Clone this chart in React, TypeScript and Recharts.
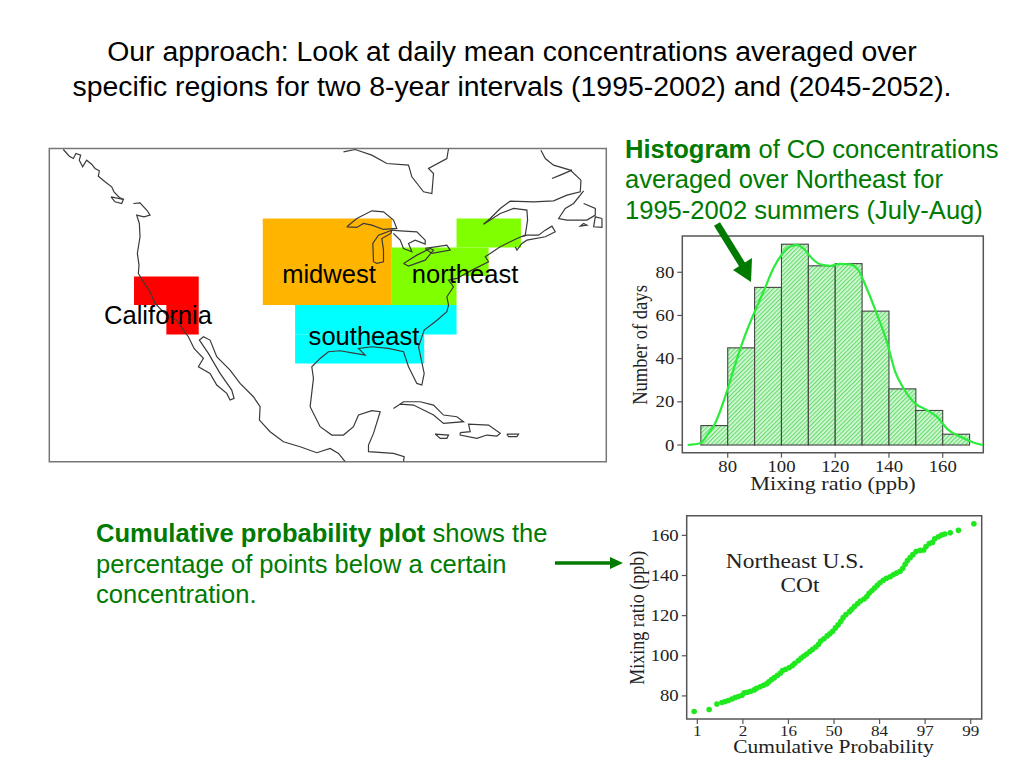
import React from "react";
import {
  ComposedChart, ScatterChart, Bar, Line, Scatter, XAxis, YAxis, ReferenceArea,
} from "recharts";

// ---------- Histogram data ----------
const binCenters = [75, 85, 95, 105, 115, 125, 135, 145, 155, 165];
const binCounts = [9, 45, 73, 93, 83, 84, 62, 26, 16, 5];
const curveX = [65.1, 69.7, 72.8, 75.3, 77.1, 80, 82.7, 85.8, 89.5, 93.3, 97, 100, 103.2, 105.7, 108.2, 111.3, 114.4, 118.1, 121.8, 125.5, 128.6, 131.7, 135.4, 139.2, 142.3, 145.4, 149.7, 154, 157.8, 162.1, 166.4, 171.4, 175];
const curveY = [0, 0.8, 5.4, 10, 15.4, 26, 37, 48.6, 60.2, 71, 81.9, 88, 91.9, 92.7, 91, 86.5, 83.7, 83, 83.9, 83.7, 81, 72.6, 61, 47.9, 34, 26.3, 19.3, 16.2, 13.1, 7, 3.9, 1.2, 0];
const histXTicks = [80, 100, 120, 140, 160];
const histYTicks = [0, 20, 40, 60, 80];

// ---------- Cumulative probability data ----------
const probit = [-3.07, -2.74, -2.57, -2.46, -2.39, -2.32, -2.24, -2.17, -2.10, -2.02, -1.97, -1.90, -1.83, -1.75, -1.70, -1.62, -1.55, -1.48, -1.43, -1.37, -1.31, -1.24, -1.18, -1.13, -1.06, -0.98, -0.91, -0.86, -0.78, -0.72, -0.66, -0.60, -0.53, -0.47, -0.40, -0.34, -0.29, -0.22, -0.15, -0.09, -0.03, 0.03, 0.09, 0.15, 0.20, 0.26, 0.34, 0.39, 0.45, 0.52, 0.58, 0.66, 0.72, 0.77, 0.83, 0.89, 0.95, 1.01, 1.08, 1.15, 1.23, 1.30, 1.37, 1.45, 1.51, 1.56, 1.61, 1.67, 1.73, 1.80, 1.89, 1.97, 2.02, 2.09, 2.16, 2.21, 2.29, 2.36, 2.43, 2.55, 2.73, 3.07];
const mixing = [72.2, 73.2, 76.0, 76.7, 77.2, 77.7, 78.5, 79.2, 79.7, 80.3, 81.5, 81.8, 82.3, 83.0, 83.8, 84.6, 85.3, 86.0, 87.0, 88.1, 89.1, 90.3, 91.3, 92.6, 93.3, 94.1, 95.1, 96.3, 97.6, 98.9, 99.9, 100.9, 102.1, 103.2, 104.4, 105.7, 107.4, 108.5, 109.9, 111.0, 112.2, 113.9, 115.4, 117.2, 119.0, 120.5, 122.0, 123.2, 124.6, 126.0, 127.3, 128.3, 129.5, 131.1, 132.4, 133.8, 135.1, 136.4, 137.6, 138.6, 139.4, 140.4, 141.2, 142.1, 143.6, 145.6, 147.4, 148.9, 150.4, 151.9, 152.5, 152.7, 154.4, 155.9, 156.5, 158.3, 159.3, 160.2, 160.7, 161.3, 162.5, 165.8];
const probTicks = [-3, -2, -1, 0, 1, 2, 3];
const probLabels = ["1", "2", "16", "50", "84", "97", "99"];
const mixTicks = [80, 100, 120, 140, 160];

// ---------- Map data (map grid units, east / south) ----------
const regions = [
  { name: "California", color: "#FF0000", cells: [[282, 476, 409, 495], [379, 476, 495, 583]] },
  { name: "midwest", color: "#FFB400", cells: [[668, 1055, 235, 495]] },
  { name: "northeast", color: "#80FF00", cells: [[1249, 1442, 235, 322], [1055, 1345, 322, 408], [1055, 1249, 408, 495]] },
  { name: "southeast", color: "#00FFFF", cells: [[765, 1249, 495, 583], [765, 1152, 583, 670]] },
];
const alaskaCoast = [[70,28],[88,48],[100,55],[108,40],[122,45],[118,60],[128,80],[140,60],[155,72],[165,85],[178,92],[175,108],[195,125],[215,140],[222,155],[238,172],[252,178]];
const vancouver = [[213,170],[250,178],[245,190],[225,185],[213,170]];
const pacificCoast = [[280,190],[300,188],[322,212],[330,225],[312,230],[290,225],[298,250],[300,290],[292,340],[297,375],[295,400],[310,425],[330,455],[345,490],[375,520],[410,540],[430,570],[445,590],[462,625],[490,655],[475,680],[510,700],[530,735],[560,760],[570,780],[582,775],[575,750],[540,700],[505,640],[478,600],[490,590],[510,600],[530,650],[570,690],[600,730],[640,770],[660,800],[658,840],[690,875],[730,905],[780,920],[830,938],[870,925],[895,940],[915,965]];
const gulfAtlantic = [[1090,965],[1092,950],[1060,940],[985,935],[985,915],[1000,880],[1020,815],[995,812],[955,825],[940,860],[910,885],[875,885],[840,860],[810,800],[820,715],[815,680],[840,655],[865,635],[900,632],[945,640],[975,645],[955,625],[995,620],[1045,625],[1090,635],[1105,680],[1130,730],[1145,735],[1152,700],[1135,620],[1152,570],[1185,545],[1220,515],[1225,495],[1220,470],[1240,440],[1225,420],[1250,415],[1295,390],[1345,365],[1335,350],[1380,320],[1430,295],[1455,285],[1462,240],[1460,210],[1420,205],[1380,220],[1330,252]];
const labrador = [[1330,252],[1350,235],[1380,205],[1410,183],[1480,185],[1540,182],[1580,165],[1620,155],[1622,120],[1590,90],[1540,75],[1515,55],[1502,30]];
const novaScotia = [[1425,320],[1430,330],[1445,310],[1460,300],[1515,290],[1545,275],[1535,258],[1515,270],[1495,285],[1460,285],[1445,290]];
const anticosti = [[1535,115],[1595,90],[1560,105],[1535,115]];
const newfoundland = [[1630,152],[1600,190],[1575,205],[1555,235],[1580,240],[1640,240],[1665,225],[1665,205],[1630,190]];
const capeRace = [[1685,235],[1685,262],[1660,260],[1665,230],[1685,235]];
const capeBreton = [[1630,250],[1640,255],[1620,258],[1630,250]];
const hudsonBay = [[910,35],[945,28],[995,45],[1040,70],[1105,75],[1115,110],[1150,155],[1175,160],[1180,100],[1165,85],[1220,55],[1225,25]];
const superior = [[920,260],[950,235],[995,212],[1030,215],[1060,240],[1070,265],[1030,268],[995,255],[970,250],[950,262],[920,260]];
const michigan = [[1000,365],[998,310],[1015,285],[1055,270],[1052,280],[1025,295],[1030,330],[1030,365],[1010,370],[1000,365]];
const huron = [[1055,270],[1080,272],[1130,275],[1155,300],[1155,312],[1125,300],[1105,310],[1115,335],[1090,325],[1080,300],[1060,280]];
const erie = [[1090,370],[1130,345],[1170,325],[1180,330],[1155,360],[1105,378],[1090,370]];
const ontario = [[1155,325],[1220,315],[1230,330],[1175,340],[1155,325]];
const cuba = [[1060,805],[1090,785],[1140,785],[1180,795],[1210,825],[1250,830],[1270,845],[1210,850],[1180,825],[1120,795],[1080,792],[1060,805]];
const hispaniola = [[1260,878],[1290,875],[1285,852],[1345,855],[1380,880],[1370,888],[1340,885],[1310,895],[1260,885],[1260,878]];
const jamaica = [[1185,882],[1225,885],[1220,895],[1200,895],[1185,882]];
const puertoRico = [[1400,882],[1435,882],[1430,890],[1405,890],[1400,882]];
const coastlines = [alaskaCoast, vancouver, pacificCoast, gulfAtlantic, labrador, novaScotia, anticosti, newfoundland, capeRace, capeBreton, hudsonBay, superior, michigan, huron, erie, ontario, cuba, hispaniola, jamaica, puertoRico];

// ---------- Tables built from the lists ----------
const binTable = binCenters.map((x, i) => ({ x, count: binCounts[i] }));
const curveTable = curveX.map((x, i) => ({ x, density: curveY[i] }));
const probTable = probit.map((z, i) => ({ z, ppb: mixing[i] }));

const SERIF = "'Liberation Serif', serif";
const SANS = "'Liberation Sans', Arial, sans-serif";
const AXIS = "#555555";
const BIN_PX = 26.875;

const WideText = ({ x, y, sx = 1.25, size = 17, rotate = 0, children }: any) => (
  <text
    transform={`translate(${x},${y}) rotate(${rotate}) scale(${sx},1)`}
    textAnchor="middle"
    fontFamily={SERIF}
    fontSize={size}
    fill="#222"
  >
    {children}
  </text>
);

const xTick = (dy: number, size: number, sx: number, fmt?: (v: number) => string) => (p: any) => (
  <g>
    <line x1={p.x} x2={p.x} y1={p.y - 8} y2={p.y - 3} stroke={AXIS} strokeWidth={1.2} />
    <WideText x={p.x} y={p.y + dy} size={size} sx={sx}>{fmt ? fmt(p.payload.value) : p.payload.value}</WideText>
  </g>
);
const yTick = (p: any) => (
  <g>
    <line x1={p.x + 3} x2={p.x + 8} y1={p.y} y2={p.y} stroke={AXIS} strokeWidth={1.2} />
    <text x={p.x} y={p.y + 5.5} textAnchor="end" fontFamily={SERIF} fontSize={17} fill="#222"
      transform={`translate(${p.x},0) scale(1.1,1) translate(${-p.x},0)`}>{p.payload.value}</text>
  </g>
);

const Txt = ({ left, top, size = 25.55, color = "#000", center, children }: any) => (
  <div style={{
    position: "absolute", left, top, fontFamily: SANS, fontSize: size, color, lineHeight: 1,
    whiteSpace: "nowrap", transform: center ? "translateX(-50%)" : undefined,
  }}>{children}</div>
);

const mapMargin = { left: 9.3, right: 8.7, top: 8.5, bottom: 8.3 };

const binShape = (p: any) => (
  <rect x={p.x + p.width / 2 - BIN_PX / 2} y={p.y} width={BIN_PX} height={p.height}
    fill="url(#hatch)" stroke="#444" strokeWidth={1.1} />
);

export default function App() {
  return (
    <div style={{ position: "absolute", left: 0, top: 0, width: 1024, height: 768, background: "#fff", overflow: "hidden" }}>
      <Txt left={512} top={37} size={28.4} center>Our approach: Look at daily mean concentrations averaged over</Txt>
      <Txt left={512} top={72} size={28.4} center>specific regions for two 8-year intervals (1995-2002) and (2045-2052).</Txt>

      {/* Map: regions underneath */}
      <div style={{ position: "absolute", left: 40, top: 140 }}>
        <ComposedChart width={575} height={330} margin={mapMargin}>
          <XAxis type="number" dataKey="e" domain={[28, 1698]} hide allowDataOverflow />
          <YAxis type="number" dataKey="s" domain={[25, 965]} reversed hide allowDataOverflow />
          {regions.flatMap((r) => r.cells.map((c, i) => (
            <ReferenceArea key={r.name + i} x1={c[0]} x2={c[1]} y1={c[2]} y2={c[3]} fill={r.color} fillOpacity={1} stroke="none" />
          )))}
          <ReferenceArea x1={28} x2={1698} y1={25} y2={965} fill="none" stroke="#777" strokeWidth={1.5} />
        </ComposedChart>
      </div>
      {/* Map: coastlines on top */}
      <div style={{ position: "absolute", left: 40, top: 140 }}>
        <ComposedChart width={575} height={330} margin={mapMargin}>
          <XAxis type="number" dataKey="e" domain={[28, 1698]} hide allowDataOverflow />
          <YAxis type="number" dataKey="s" domain={[25, 965]} reversed hide allowDataOverflow />
          {coastlines.map((pts, i) => (
            <Line key={i} data={pts.map(([e, s]) => ({ e, s }))} dataKey="s" stroke="#3a3a3a" strokeWidth={1.2} dot={false} isAnimationActive={false} legendType="none" />
          ))}
        </ComposedChart>
      </div>
      <Txt left={329} top={262} center>midwest</Txt>
      <Txt left={465} top={262} center>northeast</Txt>
      <Txt left={158} top={303} center>California</Txt>
      <Txt left={364} top={324} center>southeast</Txt>

      {/* Right text */}
      <Txt left={625} top={137} color="#007A00"><b>Histogram</b> of CO concentrations</Txt>
      <Txt left={625} top={167} color="#007A00">averaged over Northeast for</Txt>
      <Txt left={625} top={198} color="#007A00">1995-2002 summers (July-Aug)</Txt>

      {/* Histogram */}
      <div style={{ position: "absolute", left: 620, top: 225 }}>
        <ComposedChart width={380} height={275} data={binTable} margin={{ left: 0, right: 16.7, top: 11, bottom: 0 }}>
          <defs>
            <pattern id="hatch" patternUnits="userSpaceOnUse" width="3" height="3" patternTransform="rotate(45)">
              <rect width="3" height="3" fill="#D8F8D8" />
              <rect width="1.2" height="3" fill="#66DD70" />
            </pattern>
          </defs>
          <XAxis type="number" dataKey="x" domain={[63.1, 175.1]} ticks={histXTicks} height={47.3} tickLine={false} axisLine={false}
            tick={xTick(11.6, 16, 1.17)} interval={0} />
          <YAxis type="number" domain={[-3.56, 96.8]} ticks={histYTicks} width={62.3} tickLine={false} axisLine={false} tick={yTick} interval={0} />
          <ReferenceArea x1={63.1} x2={175.1} y1={-3.56} y2={96.8} fill="none" stroke={AXIS} strokeWidth={1.5} />
          <Bar dataKey="count" shape={binShape} isAnimationActive={false} />
          <Line data={curveTable} dataKey="density" type="monotone" stroke="#2BEB3B" strokeWidth={2.2} dot={false} isAnimationActive={false} />
          <WideText x={213} y={265} sx={1.17} size={19}>Mixing ratio (ppb)</WideText>
          <WideText x={27} y={120} sx={0.93} size={20} rotate={-90}>Number of days</WideText>
        </ComposedChart>
      </div>

      {/* Cumulative text */}
      <Txt left={96} top={521} color="#007A00"><b>Cumulative probability plot</b> shows the</Txt>
      <Txt left={96} top={552} color="#007A00">percentage of points below a certain</Txt>
      <Txt left={96} top={582} color="#007A00">concentration.</Txt>

      {/* Cumulative plot */}
      <div style={{ position: "absolute", left: 620, top: 505 }}>
        <ScatterChart width={380} height={260} margin={{ left: 0, right: 18.3, top: 10.7, bottom: 0 }}>
          <XAxis type="number" dataKey="z" domain={[-3.233, 3.241]} ticks={probTicks} height={46} tickLine={false} axisLine={false} interval={0}
            tick={xTick(9, 15.5, 1.1, (v) => probLabels[probTicks.indexOf(v)])} />
          <YAxis type="number" dataKey="ppb" domain={[68.5, 169.8]} ticks={mixTicks} width={66.7} tickLine={false} axisLine={false} tick={yTick} interval={0} />
          <ReferenceArea x1={-3.233} x2={3.241} y1={68.5} y2={169.8} fill="none" stroke={AXIS} strokeWidth={1.5} />
          <Scatter data={probTable} isAnimationActive={false}
            shape={(p: any) => <circle cx={p.cx} cy={p.cy} r={2.8} fill="#1FE81F" />} />
          <WideText x={175} y={63} sx={1.17} size={20}>Northeast U.S.</WideText>
          <WideText x={180} y={87} sx={1.17} size={20}>COt</WideText>
          <WideText x={213.5} y={248} sx={1.19} size={18}>Cumulative Probability</WideText>
          <WideText x={24} y={112.7} sx={0.9} size={20} rotate={-90}>Mixing ratio (ppb)</WideText>
        </ScatterChart>
      </div>

      {/* Arrows */}
      <svg width={1024} height={768} style={{ position: "absolute", left: 0, top: 0, pointerEvents: "none" }}>
        <line x1={717} y1={224} x2={743} y2={266} stroke="#007A00" strokeWidth={7} />
        <polygon points="733,270 752,258 751,282" fill="#007A00" />
        <line x1={555} y1={563} x2={612} y2={563} stroke="#007A00" strokeWidth={3.5} />
        <polygon points="610,557 623,563 610,569" fill="#007A00" />
      </svg>
    </div>
  );
}
